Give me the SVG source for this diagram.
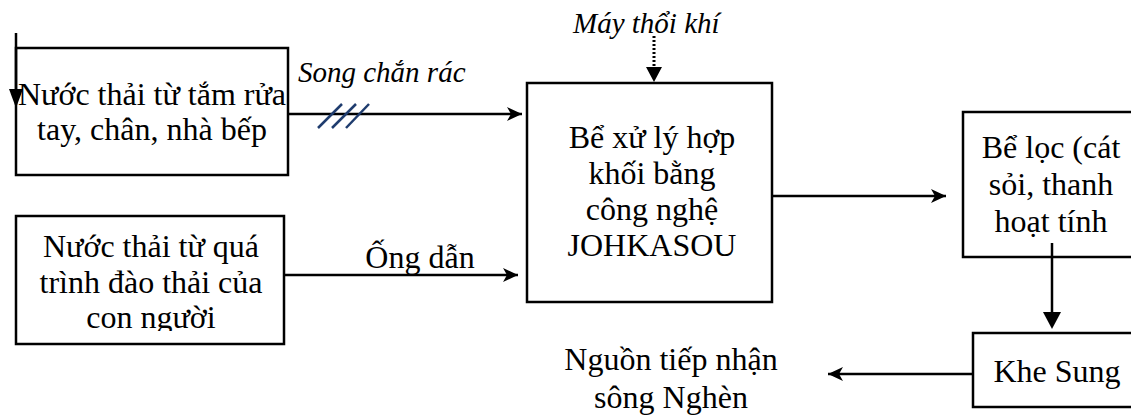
<svg xmlns="http://www.w3.org/2000/svg" width="1131" height="416" viewBox="0 0 1131 416">
<style>
.box{fill:#fff;stroke:#000;stroke-width:2.5}
.t{font-family:"Liberation Serif","Times New Roman",serif;font-size:32px;fill:#000;text-anchor:middle}
.it{font-family:"Liberation Serif","Times New Roman",serif;font-size:29px;font-style:italic;fill:#000}
.ln{stroke:#000;stroke-width:2.5;fill:none}
.hatch{stroke:#1f3c6e;stroke-width:2.5}
</style>
<defs>
<marker id="arr" markerWidth="16" markerHeight="16" refX="15" refY="7" orient="auto" markerUnits="userSpaceOnUse">
<path d="M0,0 L15,7 L0,14 L4,7 z" fill="#000"/>
</marker>
<clipPath id="clip2"><rect x="16" y="216" width="268" height="115"/></clipPath>
</defs>
<rect width="1131" height="416" fill="#fff"/>

<g id="n1">
<rect class="box" x="16" y="48" width="272" height="127"/>
<text class="t" x="152" y="105">Nước thải từ tắm rửa</text>
<text class="t" x="152" y="140">tay, chân, nhà bếp</text>
</g>

<g id="n2">
<rect class="box" x="16" y="216" width="268" height="128"/>
<g clip-path="url(#clip2)">
<text class="t" x="151" y="257">Nước thải từ quá</text>
<text class="t" x="151" y="293">trình đào thải của</text>
<text class="t" x="151" y="328">con người</text>
</g>
</g>

<g id="n3">
<rect class="box" x="527" y="83" width="245" height="219"/>
<text class="t" x="652" y="148">Bể xử lý hợp</text>
<text class="t" x="652" y="184">khối bằng</text>
<text class="t" x="652" y="220">công nghệ</text>
<text class="t" x="652" y="256">JOHKASOU</text>
</g>

<g id="n4">
<rect class="box" x="963" y="112" width="190" height="145"/>
<text class="t" x="1051" y="158">Bể lọc (cát</text>
<text class="t" x="1051" y="195">sỏi, thanh</text>
<text class="t" x="1051" y="232">hoạt tính</text>
</g>

<g id="n5">
<rect class="box" x="973" y="333" width="180" height="74"/>
<text class="t" x="1057" y="382">Khe Sung</text>
</g>

<g id="n6">
<text class="t" x="671" y="370">Nguồn tiếp nhận</text>
<text class="t" x="671" y="408">sông Nghèn</text>
</g>

<g id="connectors">
<line class="ln" x1="16" y1="33" x2="16" y2="90"/>
<polygon points="9,89 23,89 16,108" fill="#000"/>
<line class="ln" x1="288" y1="114" x2="522" y2="114" marker-end="url(#arr)"/>
<line class="hatch" x1="318" y1="128" x2="342" y2="104"/>
<line class="hatch" x1="332" y1="128" x2="356" y2="104"/>
<line class="hatch" x1="346" y1="128" x2="369" y2="104"/>
<text class="it" x="298" y="82">Song chắn rác</text>
<line class="ln" x1="284" y1="275" x2="518" y2="275" marker-end="url(#arr)"/>
<text class="t" x="420" y="268">Ống dẫn</text>
<line x1="654" y1="36" x2="654" y2="68" stroke="#000" stroke-width="3" stroke-dasharray="2 2"/>
<polygon points="646,67 662,67 654,82" fill="#000"/>
<text class="it" x="573" y="33">Máy thổi khí</text>
<line class="ln" x1="772" y1="196" x2="946" y2="196" marker-end="url(#arr)"/>
<line class="ln" x1="1052" y1="243" x2="1052" y2="313"/>
<polygon points="1043,312 1061,312 1052,329" fill="#000"/>
<line class="ln" x1="973" y1="374" x2="828" y2="374" marker-end="url(#arr)"/>
</g>
</svg>
